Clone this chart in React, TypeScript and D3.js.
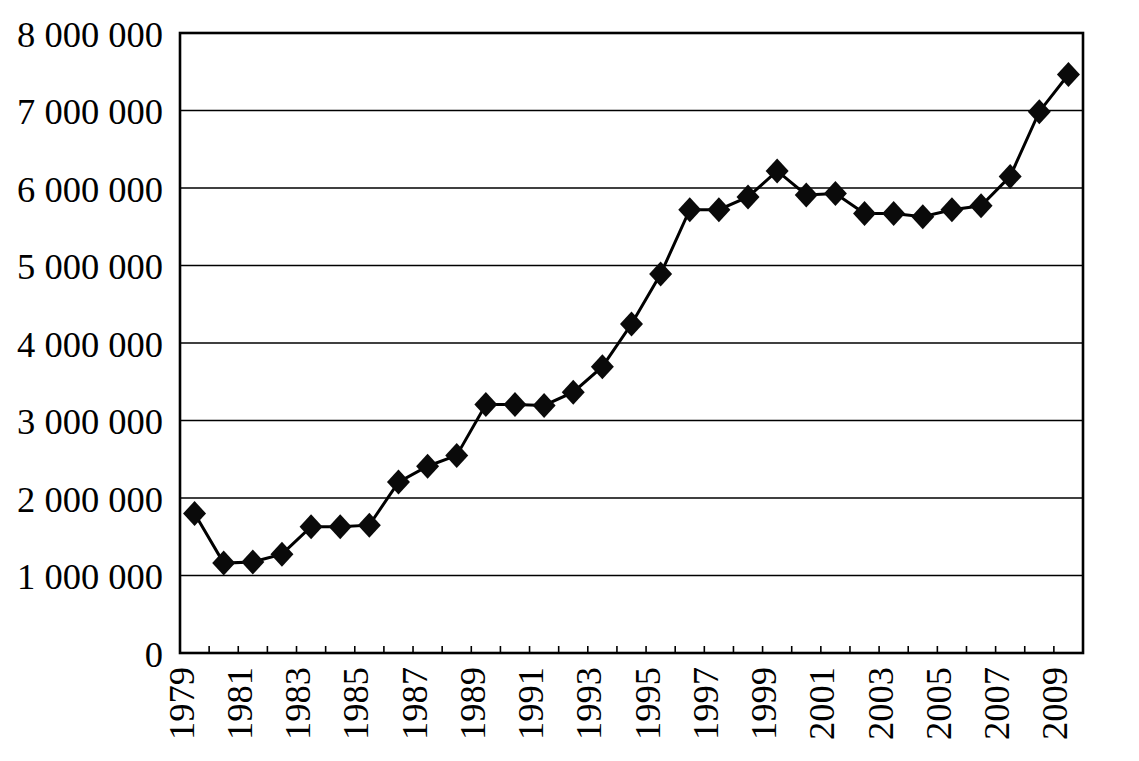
import React from "react";
import * as d3 from "d3";

const years: number[] = [
  1979, 1980, 1981, 1982, 1983, 1984, 1985, 1986, 1987, 1988, 1989, 1990, 1991,
  1992, 1993, 1994, 1995, 1996, 1997, 1998, 1999, 2000, 2001, 2002, 2003, 2004,
  2005, 2006, 2007, 2008, 2009,
];
const values: number[] = [
  1800000, 1160000, 1175000, 1275000, 1630000, 1630000, 1650000, 2205000,
  2410000, 2550000, 3205000, 3205000, 3195000, 3365000, 3695000, 4245000,
  4890000, 5720000, 5720000, 5885000, 6220000, 5910000, 5930000, 5670000,
  5670000, 5630000, 5720000, 5770000, 6150000, 6985000, 7465000,
];
const yTicks: number[] = [0, 1000000, 2000000, 3000000, 4000000, 5000000, 6000000, 7000000, 8000000];
const xLabelYears: number[] = years.filter((y) => (y - 1979) % 2 === 0);

const W = 1139;
const H = 761;
const left = 180;
const right = 1083;
const top = 33;
const bottom = 653;

const locale = d3.formatLocale({ decimal: ".", thousands: " ", grouping: [3], currency: ["", ""] });
const fmt = locale.format(",");

export default function App() {
  const x = d3.scaleBand<number>().domain(years).range([left, right]).padding(0);
  const y = d3.scaleLinear().domain([0, 8000000]).range([bottom, top]);
  const cx = (yr: number) => (x(yr) as number) + x.bandwidth() / 2;
  const data = years.map((yr, i) => ({ yr, v: values[i] }));
  const line = d3
    .line<{ yr: number; v: number }>()
    .x((d) => cx(d.yr))
    .y((d) => y(d.v));
  const font = "'Liberation Serif', 'Times New Roman', serif";
  const dw = 11.5;
  const dh = 12.5;
  const diamond = `M0,${-dh}L${dw},0L0,${dh}L${-dw},0Z`;

  return (
    <svg width={W} height={H} style={{ position: "absolute", left: 0, top: 0, background: "#fff" }}>
      <rect x={0} y={0} width={W} height={H} fill="#fff" />
      {yTicks.slice(1, -1).map((t) => (
        <line key={t} x1={left} x2={right} y1={y(t)} y2={y(t)} stroke="#000" strokeWidth={1.6} />
      ))}
      {yTicks.map((t) => (
        <text
          key={"l" + t}
          x={163}
          y={y(t)}
          dy="0.38em"
          textAnchor="end"
          fontFamily={font}
          fontSize={36.5}
          fill="#000"
        >
          {fmt(t)}
        </text>
      ))}
      {years.slice(1).map((yr) => (
        <line
          key={"t" + yr}
          x1={x(yr) as number}
          x2={x(yr) as number}
          y1={bottom}
          y2={bottom - 7}
          stroke="#000"
          strokeWidth={1.6}
        />
      ))}
      {xLabelYears.map((yr) => (
        <text
          key={"x" + yr}
          transform={`translate(${cx(yr) - 1},${667}) rotate(-90)`}
          textAnchor="end"
          fontFamily={font}
          fontSize={36.5}
          fill="#000"
        >
          {yr}
        </text>
      ))}
      <rect x={left} y={top} width={right - left} height={bottom - top} fill="none" stroke="#000" strokeWidth={2.6} />
      <path d={line(data) as string} fill="none" stroke="#000" strokeWidth={3} />
      {data.map((d) => (
        <path key={"m" + d.yr} d={diamond} transform={`translate(${cx(d.yr)},${y(d.v)})`} fill="#0a0a0a" />
      ))}
    </svg>
  );
}
